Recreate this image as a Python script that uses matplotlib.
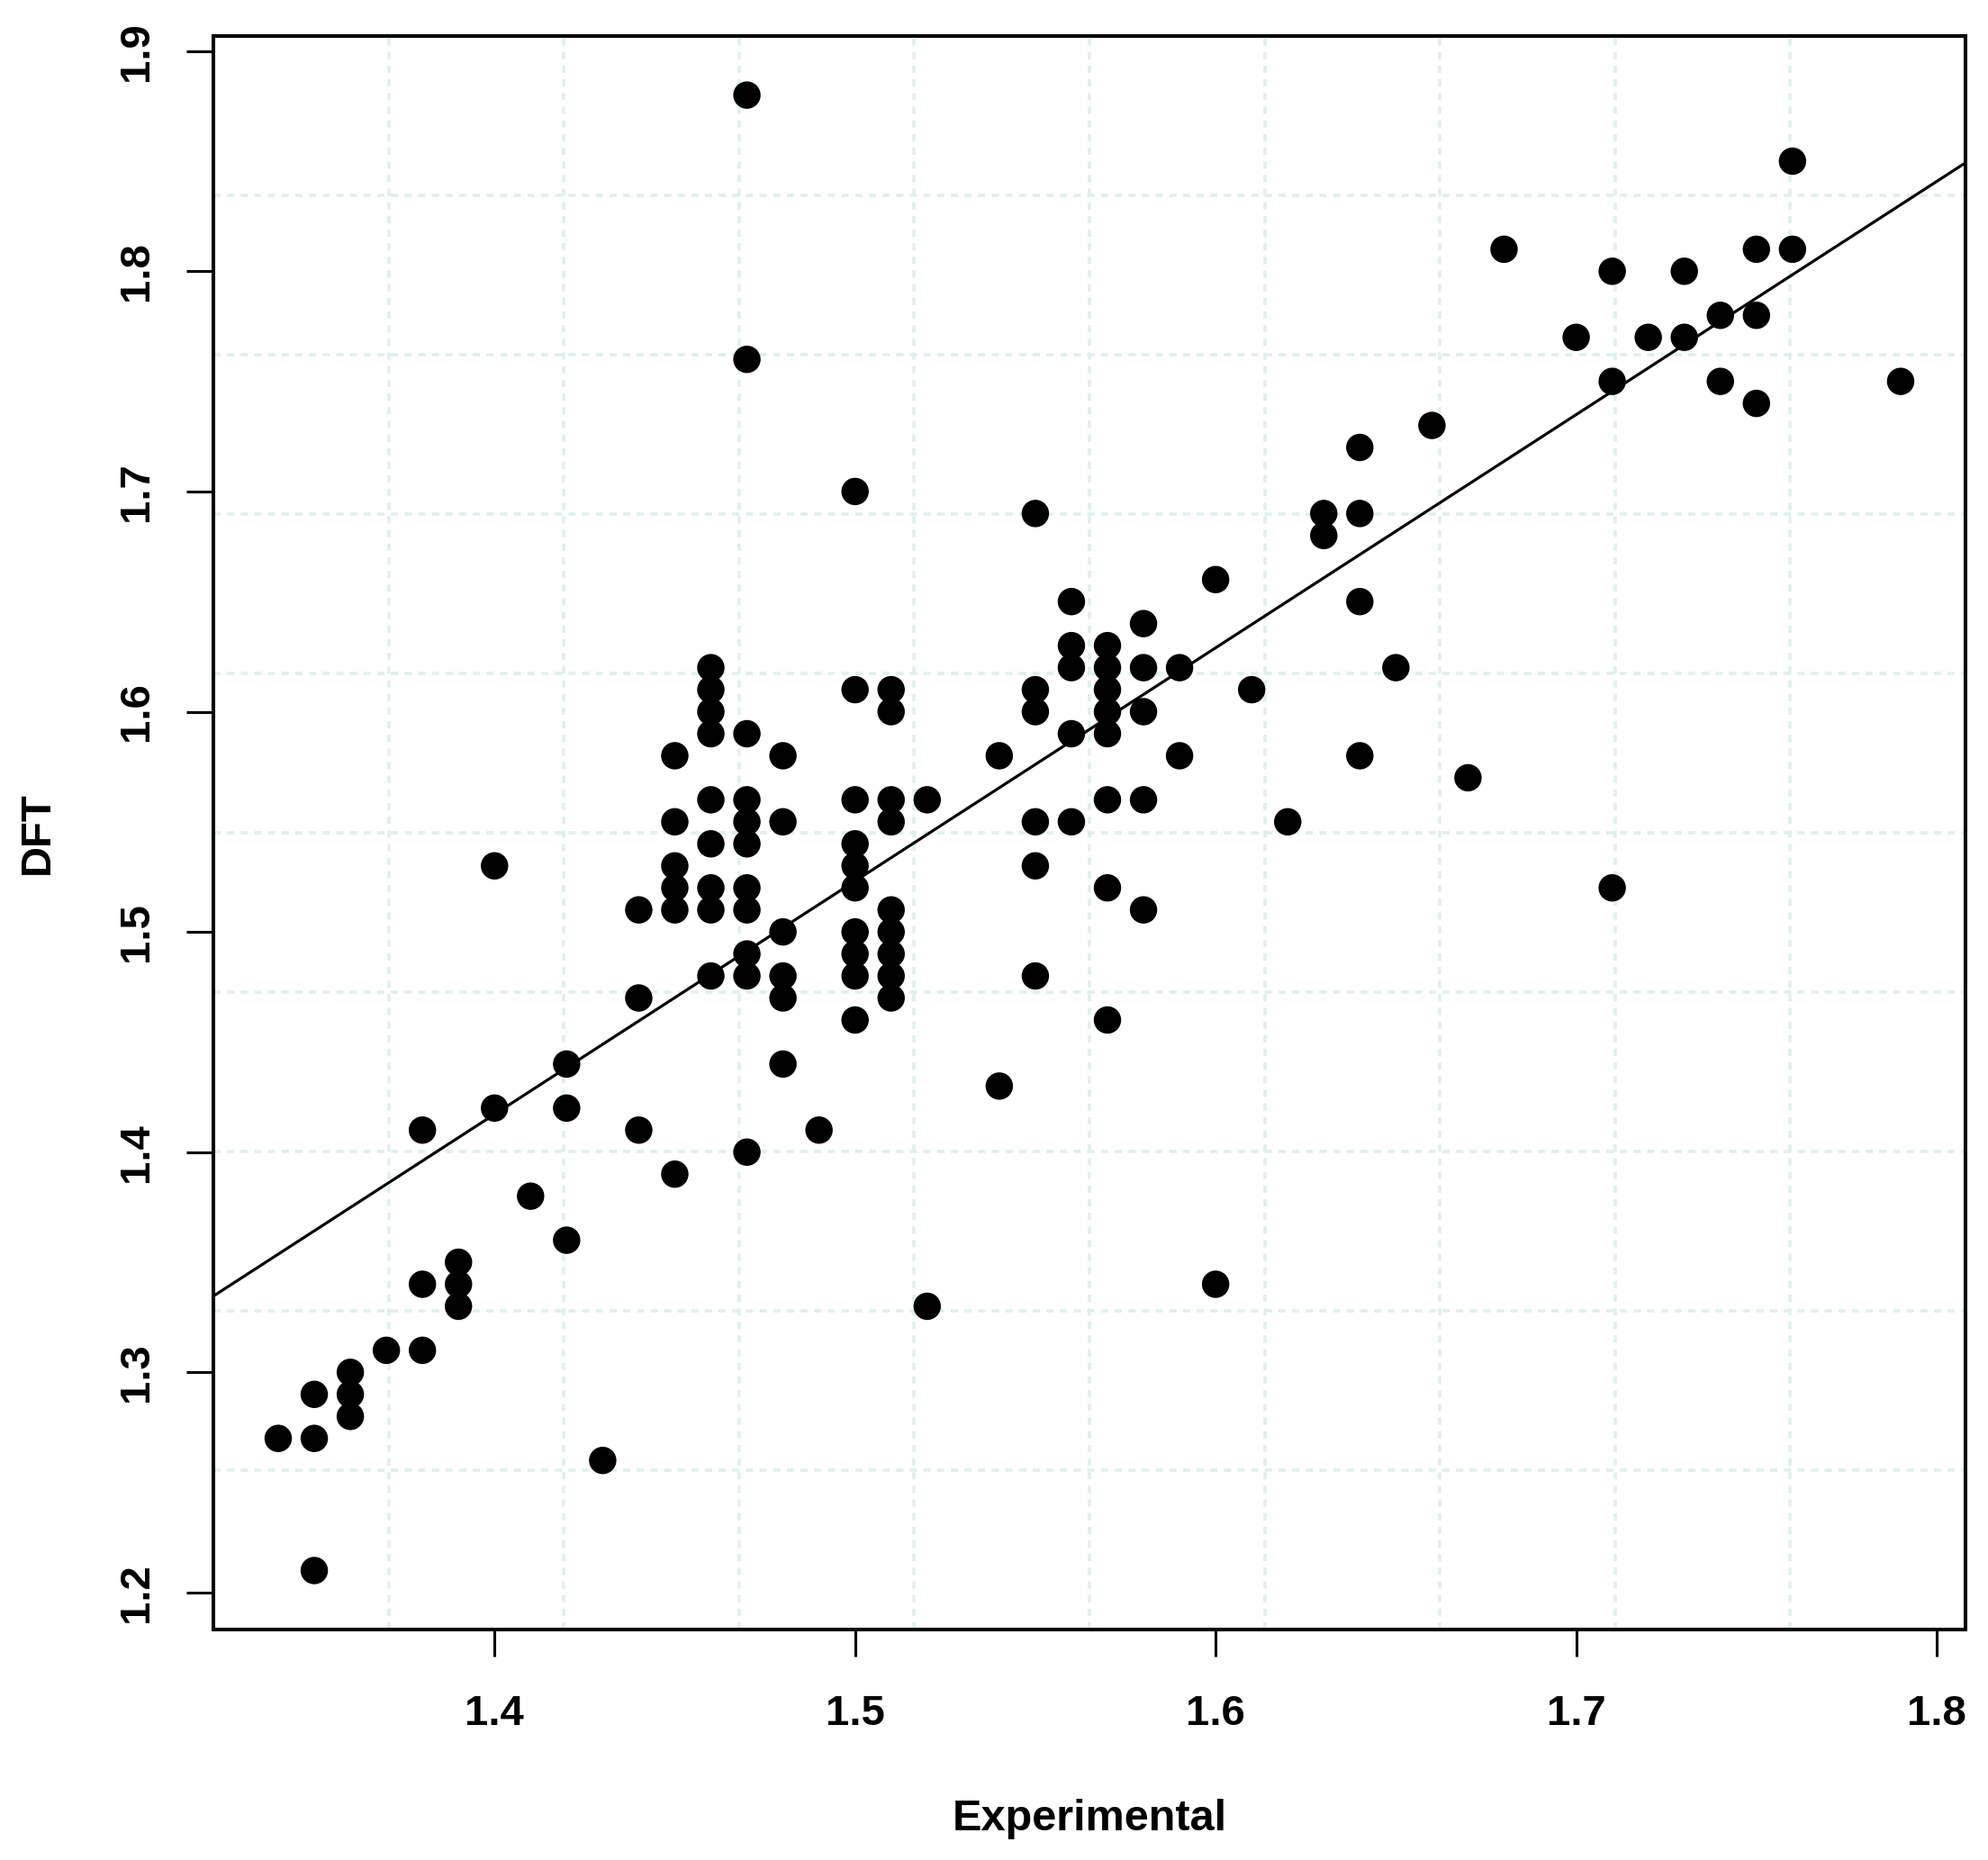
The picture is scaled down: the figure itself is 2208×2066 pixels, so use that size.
import numpy as np
import matplotlib.pyplot as plt

# experimental vs DFT values, grouped by experimental value
exp_vals = [1.34, 1.35, 1.36, 1.37, 1.38, 1.39, 1.40, 1.41, 1.42, 1.43, 1.44, 1.45,
            1.46, 1.47, 1.48, 1.49, 1.50, 1.51, 1.52, 1.54, 1.55, 1.56, 1.57, 1.58,
            1.59, 1.60, 1.61, 1.62, 1.63, 1.64, 1.65, 1.66, 1.67, 1.68, 1.70, 1.71,
            1.72, 1.73, 1.74, 1.75, 1.76, 1.79]
dft_vals = [
    [1.27],
    [1.29, 1.27, 1.21],
    [1.30, 1.29, 1.28],
    [1.31],
    [1.41, 1.34, 1.31],
    [1.35, 1.34, 1.33],
    [1.53, 1.42],
    [1.38],
    [1.44, 1.42, 1.36],
    [1.26],
    [1.51, 1.47, 1.41],
    [1.58, 1.55, 1.53, 1.52, 1.51, 1.39],
    [1.62, 1.61, 1.60, 1.59, 1.56, 1.54, 1.52, 1.51, 1.48],
    [1.88, 1.76, 1.59, 1.56, 1.55, 1.54, 1.52, 1.51, 1.49, 1.48, 1.40],
    [1.58, 1.55, 1.50, 1.48, 1.47, 1.44],
    [1.41],
    [1.70, 1.61, 1.56, 1.54, 1.53, 1.52, 1.50, 1.49, 1.48, 1.46],
    [1.61, 1.60, 1.56, 1.55, 1.51, 1.50, 1.49, 1.48, 1.47],
    [1.56, 1.33],
    [1.58, 1.43],
    [1.69, 1.61, 1.60, 1.55, 1.53, 1.48],
    [1.65, 1.63, 1.62, 1.59, 1.55],
    [1.63, 1.62, 1.61, 1.60, 1.59, 1.56, 1.52, 1.46],
    [1.64, 1.62, 1.60, 1.56, 1.51],
    [1.62, 1.58],
    [1.66, 1.34],
    [1.61],
    [1.55],
    [1.69, 1.68],
    [1.72, 1.69, 1.65, 1.58],
    [1.62],
    [1.73],
    [1.57],
    [1.81],
    [1.77],
    [1.80, 1.75, 1.52],
    [1.77],
    [1.80, 1.77],
    [1.78, 1.75],
    [1.81, 1.78, 1.74],
    [1.85, 1.81],
    [1.75],
]
x_ticks = [1.4, 1.5, 1.6, 1.7, 1.8]
y_ticks = [1.2, 1.3, 1.4, 1.5, 1.6, 1.7, 1.8, 1.9]

# fitted line (intercept, slope)
fit_intercept = -0.0654
fit_slope = 1.059

x = np.array([e for e, ys in zip(exp_vals, dft_vals) for _ in ys])
y = np.array([v for ys in dft_vals for v in ys])

plt.rcParams['font.family'] = ['Liberation Sans', 'DejaVu Sans']
plt.rcParams['font.weight'] = 'bold'

fig = plt.figure(figsize=(22.08, 20.66), dpi=100)
ax = fig.add_axes([0.1073, 0.1239, 0.8814, 0.8567])

# R-style 4% padding
def padded(v):
    r = v.max() - v.min()
    return v.min() - 0.04 * r, v.max() + 0.04 * r

xlim = padded(x)
ylim = padded(y)
ax.set_xlim(xlim)
ax.set_ylim(ylim)

grid_col = '#E0EEEE'
for gx in np.linspace(xlim[0], xlim[1], 11)[1:-1]:
    ax.axvline(gx, color=grid_col, lw=2.6, ls=(0, (2.2, 2.0)), zorder=1)
for gy in np.linspace(ylim[0], ylim[1], 11)[1:-1]:
    ax.axhline(gy, color=grid_col, lw=2.6, ls=(0, (2.2, 2.0)), zorder=1)

ax.scatter(x, y, s=480, color='black', edgecolors='none', zorder=3)

ax.axline((0, fit_intercept), slope=fit_slope, color='black', lw=2.3, zorder=2)

ax.set_xticks(x_ticks)
ax.set_yticks(y_ticks)
ax.set_xticklabels([f"{t:.1f}" for t in x_ticks])
ax.set_yticklabels([f"{t:.1f}" for t in y_ticks], rotation=90, va='center')
ax.tick_params(axis='both', labelsize=34, length=21.6, width=2.2, direction='out')
ax.tick_params(axis='x', pad=30)
ax.tick_params(axis='y', pad=24)
for sp in ax.spines.values():
    sp.set_linewidth(2.9)

ax.set_xlabel("Experimental", fontsize=35, fontweight='bold')
ax.xaxis.set_label_coords(0.5, -0.119)
ax.xaxis.label.set_va('center')
ax.set_ylabel("DFT", fontsize=34, fontweight='bold')
ax.yaxis.set_label_coords(-0.1002, 0.5)
ax.yaxis.label.set_va('center')

fig.savefig("out.png", dpi=100)
